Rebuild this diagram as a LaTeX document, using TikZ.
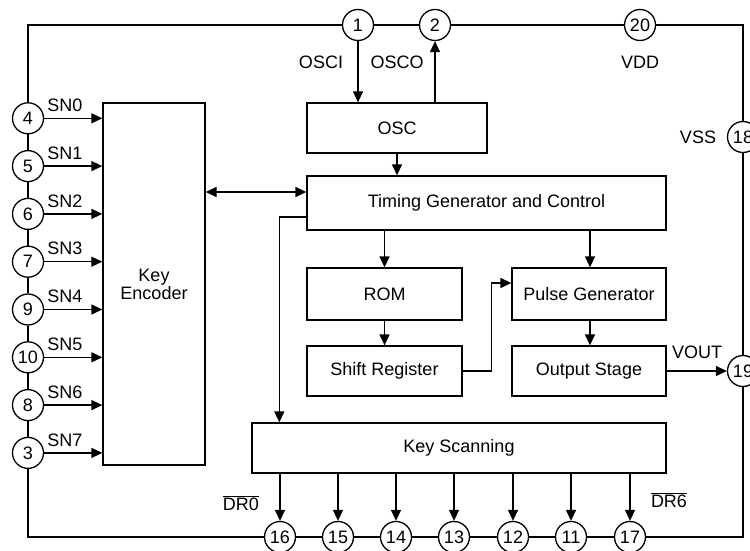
\documentclass[tikz,border=0pt]{standalone}
\usepackage{fontspec}
\setmainfont{Liberation Sans}
\usetikzlibrary{arrows.meta}
\begin{document}
\begin{tikzpicture}[x=1pt,y=-1pt,line width=1.3pt,
  font=\fontsize{18}{20}\selectfont,
  box/.style={draw,rectangle,inner sep=0pt,align=center},
  pin/.style={draw,circle,minimum size=31pt,inner sep=0pt,fill=white},
  lbl/.style={inner sep=0pt},
  arr/.style={-{Triangle[length=11pt,width=10pt]}},
  arrb/.style={{Triangle[length=11pt,width=10pt]}-{Triangle[length=11pt,width=10pt]}}]
\useasboundingbox (0,0) rectangle (750,551);
% blocks
\node[box,minimum width=102pt,minimum height=362pt] (keyenc) at (154,284) {Key\\[-2pt]Encoder};
\node[box,minimum width=180pt,minimum height=50pt] (osc) at (397,128) {OSC};
\node[box,minimum width=359pt,minimum height=54pt] (timing) at (486.5,203) {Timing Generator and Control};
\node[box,minimum width=155pt,minimum height=52pt] (rom) at (384.5,294) {ROM};
\node[box,minimum width=155pt,minimum height=50pt] (sr) at (384.5,371) {Shift Register};
\node[box,minimum width=154pt,minimum height=52pt] (pulse) at (589,294) {Pulse Generator};
\node[box,minimum width=154pt,minimum height=50pt] (out) at (589,371) {Output Stage};
\node[box,minimum width=414pt,minimum height=50pt] (scan) at (459,448) {Key Scanning};
% pins
\node[pin] (p1) at (358,25) {1};
\node[pin] (p2) at (435,25) {2};
\node[pin] (p20) at (640,25) {20};
\node[pin] (p18) at (743,137) {18};
\node[pin] (p19) at (743,371) {19};
\node[pin] (p4) at (28,118.3) {4};
\node[pin] (p5) at (28,166.1) {5};
\node[pin] (p6) at (28,213.9) {6};
\node[pin] (p7) at (28,261.7) {7};
\node[pin] (p9) at (28,309.5) {9};
\node[pin] (p10) at (28,357.3) {10};
\node[pin] (p8) at (28,405.1) {8};
\node[pin] (p3) at (28,452.9) {3};
\node[pin] (p16) at (280,537) {16};
\node[pin] (p15) at (338,537) {15};
\node[pin] (p14) at (396,537) {14};
\node[pin] (p13) at (454,537) {13};
\node[pin] (p12) at (513,537) {12};
\node[pin] (p11) at (571,537) {11};
\node[pin] (p17) at (630,537) {17};
% frame
\draw (p4.north) |- (p1.west);
\draw (p1) -- (p2);
\draw (p2) -- (p20);
\draw (p20.east) -| (p18.north);
\draw (p18) -- (p19);
\draw (p19.south) |- (p17.east);
\draw (p17) -- (p11);
\draw (p11) -- (p12);
\draw (p12) -- (p13);
\draw (p13) -- (p14);
\draw (p14) -- (p15);
\draw (p15) -- (p16);
\draw (p16.west) -| (p3.south);
\draw (p3) -- (p8);
\draw (p8) -- (p10);
\draw (p10) -- (p9);
\draw (p9) -- (p7);
\draw (p7) -- (p6);
\draw (p6) -- (p5);
\draw (p5) -- (p4);
% SN inputs
\foreach \p/\s in {p4/SN0,p5/SN1,p6/SN2,p7/SN3,p9/SN4,p10/SN5,p8/SN6,p3/SN7}{
  \draw[arr] (\p.east) -- (\p.east -| keyenc.west);
  \node[lbl] (l\p) at ([xshift=37pt,yshift=13pt]\p.center) {\s};
}
% OSC
\draw[arr] (p1.south) -- (p1.south |- osc.north);
\draw[arr] (p2.south |- osc.north) -- (p2.south);
\node[lbl] (losci) at (321,62) {OSCI};
\node[lbl] (losco) at (397,62) {OSCO};
\node[lbl] (lvdd) at (640,62) {VDD};
\node[lbl] (lvss) at (698,137) {VSS};
\draw[arr] (osc.south) -- (osc.south |- timing.north);
\draw[arrb] ([yshift=11pt]timing.west -| keyenc.east) -- ([yshift=11pt]timing.west);
\draw[arr] ([yshift=-14pt]timing.west) -| ([xshift=28pt]scan.north west);
\draw[arr] (rom.north |- timing.south) -- (rom.north);
\draw[arr] ([xshift=1pt]pulse.north |- timing.south) -- ([xshift=1pt]pulse.north);
\draw[arr] (rom.south) -- (sr.north);
\draw[arr] (sr.east) -- ++(29,0) |- ([yshift=11pt]pulse.west);
\draw[arr] ([xshift=1pt]pulse.south) -- ([xshift=1pt]out.north);
\draw[arr] (out.east) -- (p19.west);
\node[lbl] (lvout) at (697,352) {VOUT};
% key scanning outputs
\foreach \p in {p16,p15,p14,p13,p12,p11,p17}{
  \draw[arr] (scan.south -| \p.north) -- (\p.north);
}
\node[lbl] (ldr0) at (241,503) {$\overline{\hbox{DR0}}$};
\node[lbl] (ldr6) at (669,500) {$\overline{\hbox{DR6}}$};
\end{tikzpicture}
\end{document}
